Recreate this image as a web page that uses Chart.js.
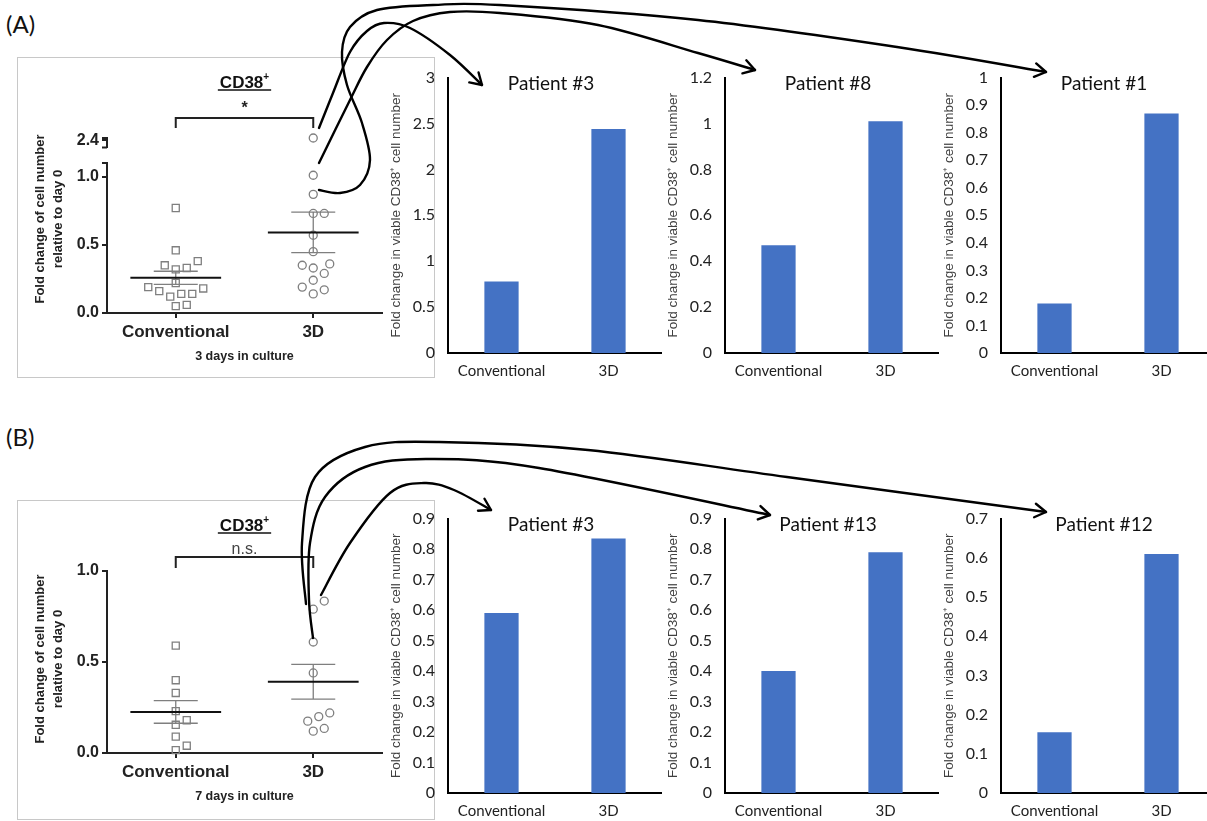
<!DOCTYPE html>
<html>
<head>
<meta charset="utf-8">
<script src="https://cdn.jsdelivr.net/npm/chart.js@4.4.1/dist/chart.umd.min.js"></script>
<style>
  html, body { margin: 0; padding: 0; background: #fff; width: 1207px; height: 821px; overflow: hidden; position: relative; }
  canvas.c { position: absolute; }
  .box { position: absolute; border: 1px solid #c8c8c8; box-sizing: border-box; }
  .lbl { position: absolute; font: 24px Lato, "Open Sans", sans-serif; color: #111; }
  #overlay { position: absolute; left: 0; top: 0; z-index: 5; pointer-events: none; }
</style>
</head>
<body>
<div class="lbl" style="left:6px;top:9px">(A)</div>
<div class="lbl" style="left:6px;top:422px">(B)</div>
<div class="box" style="left:17px;top:57px;width:418px;height:321px"></div>
<div class="box" style="left:17px;top:500px;width:418px;height:320px"></div>

<canvas class="c" id="scA" width="416" height="321" style="left:17px;top:57px"></canvas>
<canvas class="c" id="scAtop" width="416" height="40" style="left:17px;top:120px"></canvas>
<canvas class="c" id="scB" width="416" height="318" style="left:17px;top:500px"></canvas>

<canvas class="c" id="barA1" width="289" height="328" style="left:373px;top:55px"></canvas>
<canvas class="c" id="barA2" width="289" height="328" style="left:650px;top:55px"></canvas>
<canvas class="c" id="barA3" width="289" height="328" style="left:926px;top:55px"></canvas>
<canvas class="c" id="barB1" width="289" height="327" style="left:373px;top:496px"></canvas>
<canvas class="c" id="barB2" width="289" height="327" style="left:650px;top:496px"></canvas>
<canvas class="c" id="barB3" width="289" height="327" style="left:926px;top:496px"></canvas>

<canvas id="overlay" width="1207" height="821"></canvas>

<script>
// --- data ---
var groups = ['Conventional', '3D'];

// (A) pooled patients, 3 days in culture
var day3Conventional = [0.77, 0.46, 0.38, 0.33, 0.32, 0.35, 0.22, 0.18, 0.14, 0.12, 0.14, 0.16, 0.19, 0.05, 0.06];
var day3ThreeD = [2.43, 1.01, 0.87, 0.73, 0.73, 0.57, 0.45, 0.36, 0.33, 0.35, 0.29, 0.24, 0.19, 0.14, 0.17];
// (B) pooled patients, 7 days in culture
var day7Conventional = [0.59, 0.40, 0.33, 0.23, 0.18, 0.155, 0.09, 0.04, 0.016];
var day7ThreeD = [0.835, 0.79, 0.61, 0.44, 0.22, 0.2, 0.175, 0.12, 0.135];

// single patient bar charts: [Conventional, 3D]
var patientsA = ['Patient #3', 'Patient #8', 'Patient #1'];
var patientsAValues = [[0.78, 2.44], [0.47, 1.01], [0.18, 0.87]];
var patientsAMax = [3, 1.2, 1];
var patientsAStep = [0.5, 0.2, 0.1];
var patientsB = ['Patient #3', 'Patient #13', 'Patient #12'];
var patientsBValues = [[0.59, 0.835], [0.40, 0.79], [0.155, 0.61]];
var patientsBMax = [0.9, 0.9, 0.7];
var patientsBStep = [0.1, 0.1, 0.1];

var BAR_BLUE = '#4472C4';
var GREY = '#7f7f7f';
var SANS = '"Liberation Sans", Arial, sans-serif';
var CAL = 'Lato, "Open Sans", sans-serif';

function mean(a) { return a.reduce(function (s, v) { return s + v; }, 0) / a.length; }
function sem(a) {
  var m = mean(a);
  var v = a.reduce(function (s, x) { return s + (x - m) * (x - m); }, 0) / (a.length - 1);
  return Math.sqrt(v / a.length);
}

// title drawn inside the plot area, like the excel charts
var patientTitle = {
  id: 'patientTitle',
  afterDraw: function (chart, args, opts) {
    var a = chart.chartArea, ctx = chart.ctx;
    ctx.save();
    ctx.font = '19px ' + CAL;
    ctx.fillStyle = '#111';
    ctx.textAlign = 'center';
    ctx.textBaseline = 'middle';
    ctx.fillText(opts.text, (a.left + a.right) / 2 - 4, a.top + 6);
    ctx.restore();
  }
};

function barChart(id, title, values, max, step) {
  return new Chart(document.getElementById(id), {
    type: 'bar',
    data: {
      labels: groups,
      datasets: [{ data: values, backgroundColor: BAR_BLUE, barPercentage: 0.32, categoryPercentage: 1 }]
    },
    options: {
      responsive: false, animation: false, events: [],
      layout: { padding: { top: 20, right: 0, left: 0, bottom: 0 } },
      plugins: { legend: { display: false }, tooltip: { enabled: false }, patientTitle: { text: title } },
      scales: {
        x: {
          grid: { display: false, drawTicks: false },
          border: { color: '#000', width: 2 },
          ticks: { color: '#222', font: { family: CAL, size: 15 }, padding: 9 },
          afterFit: function (s) { s.height = 30; }
        },
        y: {
          min: 0, max: max,
          ticks: { stepSize: step, color: '#222', font: { family: CAL, size: 16 }, padding: 13,
                   callback: function (v) { return String(+v.toFixed(2)); } },
          grid: { display: false, drawTicks: false },
          border: { color: '#000', width: 2 },
          title: { display: true, text: 'Fold change in viable CD38\u207A cell number', color: '#404040',
                   font: { family: SANS, size: 13.5 }, padding: { top: 15, bottom: 0 } },
          afterFit: function (s) { s.width = 75; }
        }
      }
    },
    plugins: [patientTitle]
  });
}

// beeswarm placement, done in pixels so that markers do not overlap
function swarm(chart) {
  var xs = chart.scales.x, ys = chart.scales.y;
  var unit = xs.getPixelForValue(1) - xs.getPixelForValue(0);
  var STEP = 5.5, DIAM = 10.5;
  chart.data.datasets.forEach(function (ds, gi) {
    var placed = [];
    var cx = xs.getPixelForValue(gi);
    ds.data.slice().sort(function (a, b) { return a.y - b.y; }).forEach(function (p) {
      var py = ys.getPixelForValue(p.y);
      for (var k = 0; k < 30; k++) {
        var off = (k % 2 ? 1 : -1) * Math.ceil(k / 2) * STEP;
        var ok = placed.every(function (q) { return Math.hypot(q[0] - (cx + off), q[1] - py) >= DIAM; });
        if (ok) { p.x = gi + off / unit; placed.push([cx + off, py]); break; }
      }
    });
  });
  chart.update('none');
}

function axisStyle(extra) {
  var s = {
    grid: { drawOnChartArea: false, drawTicks: true, tickLength: 5, color: '#222', lineWidth: 2 },
    border: { color: '#222', width: 2 }
  };
  for (var k in extra) s[k] = extra[k];
  return s;
}

function pointSets(conv, td, keep) {
  return [
    { data: conv.filter(keep).map(function (v) { return { x: 0, y: v }; }), pointStyle: 'rect', pointRadius: 5,
      borderColor: GREY, borderWidth: 1.3, backgroundColor: 'rgba(0,0,0,0)', clip: false },
    { data: td.filter(keep).map(function (v) { return { x: 1, y: v }; }), pointStyle: 'circle', pointRadius: 4,
      borderColor: GREY, borderWidth: 1.3, backgroundColor: 'rgba(0,0,0,0)', clip: false }
  ];
}

function scatterChart(id, cfg) {
  var conv = cfg.conv, td = cfg.threeD;
  var deco = {
    id: 'deco' + id,
    afterDatasetsDraw: function (chart) {
      var ctx = chart.ctx, xs = chart.scales.x, ys = chart.scales.y;
      [conv, td].forEach(function (vals, gi) {
        var m = mean(vals), e = sem(vals);
        var cx = xs.getPixelForValue(gi);
        var w = xs.getPixelForValue(0.33) - xs.getPixelForValue(0);
        var wc = xs.getPixelForValue(0.16) - xs.getPixelForValue(0);
        var yT = ys.getPixelForValue(m + e), yB = ys.getPixelForValue(m - e), yM = ys.getPixelForValue(m);
        ctx.save();
        ctx.strokeStyle = GREY; ctx.lineWidth = 1.3;
        ctx.beginPath();
        ctx.moveTo(cx, yT); ctx.lineTo(cx, yB);
        ctx.moveTo(cx - wc, yT); ctx.lineTo(cx + wc, yT);
        ctx.moveTo(cx - wc, yB); ctx.lineTo(cx + wc, yB);
        ctx.stroke();
        ctx.strokeStyle = '#111'; ctx.lineWidth = 2;
        ctx.beginPath(); ctx.moveTo(cx - w, yM); ctx.lineTo(cx + w, yM); ctx.stroke();
        ctx.restore();
      });
    },
    afterDraw: function (chart) {
      var ctx = chart.ctx, a = chart.chartArea, xs = chart.scales.x;
      var x0 = xs.getPixelForValue(0), x1 = xs.getPixelForValue(1), mid = (a.left + a.right) / 2;
      ctx.save();
      // CD38+ heading, underlined
      ctx.fillStyle = '#111'; ctx.textAlign = 'left'; ctx.textBaseline = 'alphabetic';
      ctx.font = 'bold 17px ' + SANS;
      var w1 = ctx.measureText('CD38').width;
      ctx.font = 'bold 10px ' + SANS;
      var w2 = ctx.measureText('+').width;
      var left = mid - (w1 + w2) / 2, base = a.top + cfg.headY;
      ctx.font = 'bold 17px ' + SANS; ctx.fillText('CD38', left, base);
      ctx.font = 'bold 10px ' + SANS; ctx.fillText('+', left + w1, base - 8);
      ctx.strokeStyle = '#111'; ctx.lineWidth = 1.3;
      ctx.beginPath(); ctx.moveTo(left - 2, base + 2); ctx.lineTo(left + w1 + w2 + 2, base + 2); ctx.stroke();
      // significance bracket
      ctx.strokeStyle = '#222'; ctx.lineWidth = 2;
      ctx.beginPath();
      ctx.moveTo(x0, a.top + cfg.legY); ctx.lineTo(x0, a.top + cfg.brY);
      ctx.lineTo(x1, a.top + cfg.brY); ctx.lineTo(x1, a.top + cfg.legY);
      ctx.stroke();
      ctx.textAlign = 'center'; ctx.textBaseline = 'middle';
      ctx.font = cfg.sigFont; ctx.fillStyle = cfg.sigColor;
      ctx.fillText(cfg.sig, (x0 + x1) / 2, a.top + cfg.sigY);
      // y title
      ctx.translate(23, cfg.yTitleY);
      ctx.rotate(-Math.PI / 2);
      ctx.font = 'bold 13px ' + SANS; ctx.fillStyle = '#222';
      ctx.fillText('Fold change of cell number', 0, 0);
      ctx.fillText('relative to day 0', 0, 18);
      ctx.restore();
      if (cfg.cap) {
        ctx.save(); ctx.strokeStyle = '#222'; ctx.lineWidth = 2;
        ctx.beginPath(); ctx.moveTo(a.left - 5, a.top); ctx.lineTo(a.left, a.top); ctx.stroke();
        ctx.restore();
      }
    }
  };

  var chart = new Chart(document.getElementById(id), {
    type: 'scatter',
    data: { datasets: pointSets(conv, td, function (v) { return v <= cfg.yMax; }) },
    options: {
      responsive: false, animation: false, events: [],
      layout: { padding: { top: cfg.padTop, right: 51, left: 0, bottom: 0 } },
      plugins: { legend: { display: false }, tooltip: { enabled: false } },
      scales: {
        x: axisStyle({
          type: 'linear', min: -0.5, max: 1.5,
          afterBuildTicks: function (s) { s.ticks = [{ value: 0 }, { value: 1 }]; },
          ticks: { callback: function (v) { return groups[v]; }, font: { family: SANS, size: 17, weight: 'bold' },
                   color: '#222', padding: 4, autoSkip: false, maxRotation: 0 },
          title: { display: true, text: cfg.xTitle, font: { family: SANS, size: 12.5, weight: 'bold' },
                   color: '#222', padding: { top: 0, bottom: 14 } },
          afterFit: function (s) { s.height = 65; }
        }),
        y: axisStyle({
          min: 0, max: cfg.yMax,
          afterBuildTicks: function (s) { s.ticks = [0, 0.5, 1].map(function (v) { return { value: v }; }); },
          ticks: { callback: function (v) { return v.toFixed(1); }, font: { family: SANS, size: 16, weight: 'bold' },
                   color: '#222', padding: 3 },
          afterFit: function (s) { s.width = 90; }
        })
      }
    },
    plugins: [deco]
  });
  swarm(chart);
  return chart;
}

// top piece of the broken y axis in (A)
function brokenTop(id, conv, td, from) {
  var caps = {
    id: 'caps',
    afterDraw: function (chart) {
      var ctx = chart.ctx, a = chart.chartArea;
      ctx.save(); ctx.strokeStyle = '#222'; ctx.lineWidth = 2;
      ctx.beginPath();
      ctx.moveTo(a.left - 5, a.top); ctx.lineTo(a.left, a.top);
      ctx.moveTo(a.left - 5, a.bottom); ctx.lineTo(a.left, a.bottom);
      ctx.stroke(); ctx.restore();
    }
  };
  return new Chart(document.getElementById(id), {
    type: 'scatter',
    data: { datasets: pointSets(conv, td, function (v) { return v > from; }) },
    options: {
      responsive: false, animation: false, events: [],
      layout: { padding: { top: 18, right: 51, left: 0, bottom: 10 } },
      plugins: { legend: { display: false }, tooltip: { enabled: false } },
      scales: {
        x: { type: 'linear', min: -0.5, max: 1.5, display: false },
        y: axisStyle({
          min: 2.31, max: 2.43,
          afterBuildTicks: function (s) { s.ticks = [{ value: 2.4 }]; },
          ticks: { callback: function (v) { return v.toFixed(1); }, font: { family: SANS, size: 16, weight: 'bold' },
                   color: '#222', padding: 3 },
          afterFit: function (s) { s.width = 90; }
        })
      }
    },
    plugins: [caps]
  });
}

scatterChart('scA', {
  conv: day3Conventional, threeD: day3ThreeD, yMax: 1.1, padTop: 106, xTitle: '3 days in culture',
  headY: -75, brY: -45, legY: -35, sig: '*', sigY: -54, sigFont: 'bold 16px ' + SANS, sigColor: '#222',
  yTitleY: 162, cap: true
});
brokenTop('scAtop', day3Conventional, day3ThreeD, 1.1);
scatterChart('scB', {
  conv: day7Conventional, threeD: day7ThreeD, yMax: 1.0, padTop: 71, xTitle: '7 days in culture',
  headY: -40, brY: -14, legY: -3, sig: 'n.s.', sigY: -21, sigFont: '16px ' + SANS, sigColor: '#444',
  yTitleY: 159, cap: false
});

['barA1', 'barA2', 'barA3'].forEach(function (id, i) {
  barChart(id, patientsA[i], patientsAValues[i], patientsAMax[i], patientsAStep[i]);
});
['barB1', 'barB2', 'barB3'].forEach(function (id, i) {
  barChart(id, patientsB[i], patientsBValues[i], patientsBMax[i], patientsBStep[i]);
});

// connector arrows from single points to the patient charts
(function () {
  var ctx = document.getElementById('overlay').getContext('2d');
  ctx.strokeStyle = '#000'; ctx.lineWidth = 2.4; ctx.lineCap = 'round'; ctx.lineJoin = 'round';
  function curve(pts) {
    ctx.beginPath(); ctx.moveTo(pts[0][0], pts[0][1]);
    for (var i = 0; i < pts.length - 1; i++) {
      var p0 = pts[i - 1] || pts[i], p1 = pts[i], p2 = pts[i + 1], p3 = pts[i + 2] || p2;
      ctx.bezierCurveTo(p1[0] + (p2[0] - p0[0]) / 6, p1[1] + (p2[1] - p0[1]) / 6,
                        p2[0] - (p3[0] - p1[0]) / 6, p2[1] - (p3[1] - p1[1]) / 6, p2[0], p2[1]);
    }
    ctx.stroke();
    var tip = pts[pts.length - 1], prev = pts[pts.length - 2];
    var ang = Math.atan2(tip[1] - prev[1], tip[0] - prev[0]);
    ctx.beginPath();
    ctx.moveTo(tip[0] - 13 * Math.cos(ang - 0.55), tip[1] - 13 * Math.sin(ang - 0.55));
    ctx.lineTo(tip[0], tip[1]);
    ctx.lineTo(tip[0] - 13 * Math.cos(ang + 0.55), tip[1] - 13 * Math.sin(ang + 0.55));
    ctx.stroke();
  }
  curve([[319, 128], [333, 93], [350, 52], [367, 31], [384, 23], [410, 28], [450, 55], [482, 85]]);
  curve([[319, 163], [350, 100], [367, 67], [387, 40], [413, 21], [450, 12], [500, 13], [598, 25], [698, 53], [755, 70]]);
  curve([[319, 190], [340, 193], [360, 185], [370, 160], [362, 123], [347, 85], [342, 52], [350, 27], [377, 10],
         [433, 5], [500, 5], [698, 20], [897, 47], [1046, 72]]);
  curve([[321, 595], [350, 543], [390, 493], [424, 483], [454, 490], [491, 510]]);
  curve([[313, 638], [309, 600], [310, 543], [325, 497], [365, 467], [429, 459], [539, 468], [770, 515]]);
  curve([[306, 604], [302, 543], [315, 477], [365, 447], [439, 442], [588, 450], [787, 477], [1046, 512]]);
})();
</script>
</body>
</html>
